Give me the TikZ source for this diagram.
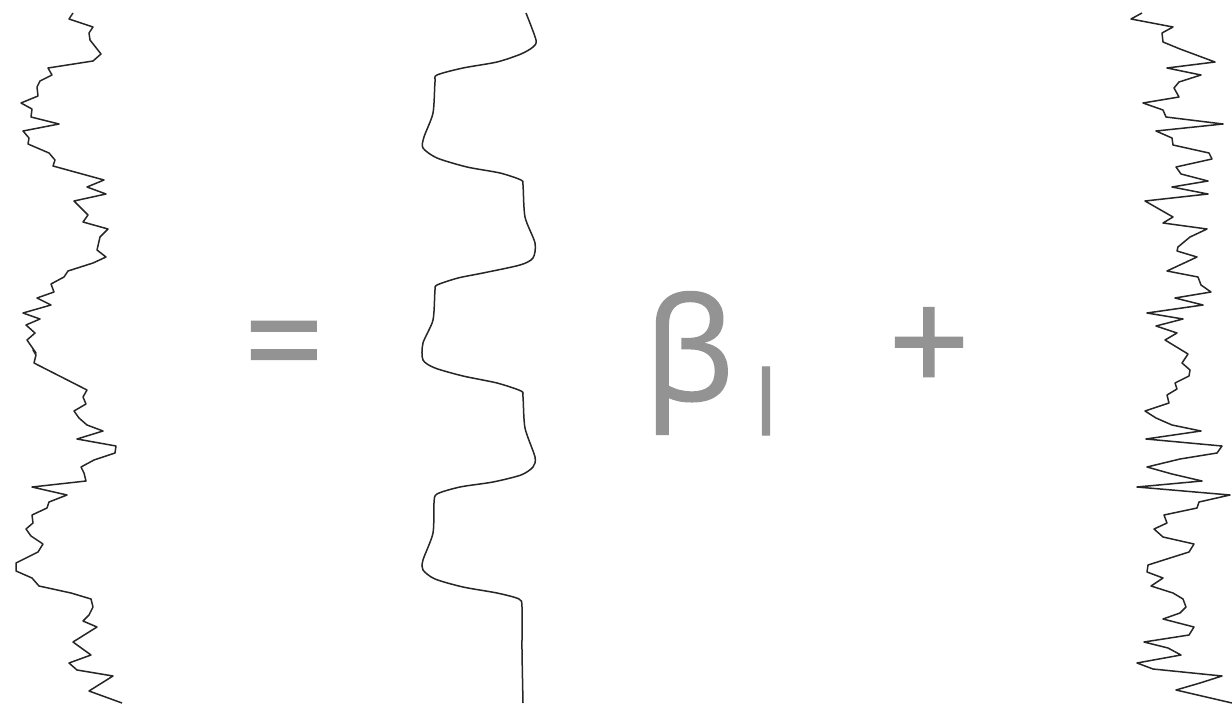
\documentclass[tikz,border=0pt]{standalone}
\usepackage{fontspec}
\setmainfont{Open Sans}
\newfontfamily\symf[FakeBold=1.2]{Open Sans}
\definecolor{symgray}{HTML}{939393}
\begin{document}
\begin{tikzpicture}[x=1pt,y=-1pt,
  trace/.style={draw=black!85,line width=1.5pt,line join=round},
  sym/.style={text=symgray,inner sep=0pt,anchor=center,font=\symf\fontsize{142}{142}\selectfont}]
\useasboundingbox (0,0) rectangle (1232,707);
\fill[white] (0,0) rectangle (1232,707);
% left trace
\draw[trace] plot coordinates {(73,13) (69,19) (93,27) (89,33) (90,40) (101,54) (93,61) (48,68) (52,75) (40,81) (37,87) (38,96) (21,103) (32,109) (31,117) (59,124) (23,131) (29,138) (28,144) (49,153) (55,160) (53,166) (104,180) (87,187) (106,194) (74,201) (88,215) (83,222) (108,229) (100,237) (97,250) (106,257) (93,263) (68,271) (64,277) (51,284) (54,292) (37,298) (51,305) (23,313) (40,319) (26,325) (35,333) (27,340) (36,353) (33,350) (36,355) (34,363) (87,390) (83,397) (86,404) (74,411) (79,418) (87,425) (103,431) (77,439) (116,446) (115,453) (94,460) (81,467) (84,473) (86,481) (32,487) (67,495) (49,502) (47,508) (32,515) (33,523) (26,529) (31,536) (43,544) (38,552) (16,563) (16,571) (32,578) (39,586) (71,593) (91,599) (93,607) (89,615) (83,621) (97,627) (73,642) (91,655) (69,663) (77,670) (113,676) (89,691) (122,703)};
% middle smooth trace
\draw[trace] plot[smooth,tension=0.45] coordinates {(526,13) (536,40) (533,47) (521,54) (497,62) (463,68) (437,75) (435,82) (433,113) (424,137) (423,148) (437,158) (467,167) (500,173) (521,180) (523,185) (525,217) (535,243) (533,258) (520,265) (483,273) (458,278) (437,285) (435,290) (433,320) (423,343) (423,360) (435,368) (463,376) (497,383) (521,391) (523,397) (525,428) (535,457) (533,467) (521,475) (493,482) (460,487) (437,494) (434,503) (433,533) (423,560) (423,570) (435,579) (463,587) (497,593) (519,599) (522,607) (522,650) (523,703)};
% right trace
\draw[trace] plot coordinates {(1142,13) (1131,19) (1173,27) (1162,33) (1163,42) (1180,49) (1215,62) (1167,68) (1201,75) (1179,82) (1174,88) (1179,97) (1143,103) (1163,110) (1166,117) (1223,124) (1156,131) (1172,138) (1173,145) (1209,153) (1212,159) (1176,167) (1181,174) (1208,181) (1172,187) (1208,194) (1145,201) (1173,217) (1163,223) (1207,229) (1190,237) (1178,247) (1177,251) (1197,257) (1167,271) (1198,277) (1201,285) (1211,292) (1175,298) (1203,305) (1147,313) (1183,319) (1156,326) (1177,333) (1165,340) (1188,354) (1182,363) (1190,370) (1189,376) (1175,383) (1177,389) (1167,395) (1169,403) (1145,411) (1156,418) (1172,425) (1201,431) (1146,439) (1222,446) (1217,453) (1180,459) (1147,467) (1172,474) (1202,481) (1137,487) (1230,495) (1199,502) (1197,508) (1164,515) (1167,523) (1154,529) (1163,537) (1194,544) (1189,552) (1170,558) (1148,565) (1147,572) (1163,578) (1151,586) (1173,593) (1183,599) (1186,607) (1180,613) (1163,619) (1194,627) (1189,635) (1144,642) (1168,648) (1181,655) (1137,663) (1153,669) (1222,676) (1200,683) (1176,690) (1232,703)};
% symbols
\node[sym] (eq) at (284,356) {=};
\node[sym] (beta) at (689,363) {β};
\node[sym,font=\symf\fontsize{90}{90}\selectfont] (sub) at (766,401) {l};
\node[sym] (plus) at (929,350) {+};
\end{tikzpicture}
\end{document}
